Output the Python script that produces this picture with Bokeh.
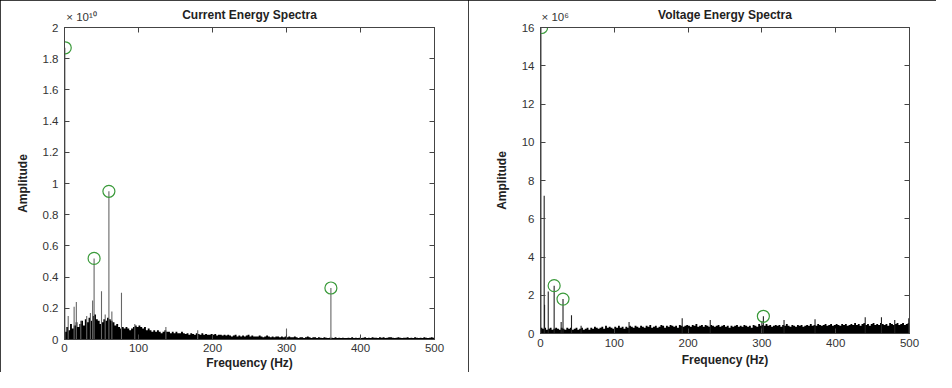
from bokeh.plotting import figure
from bokeh.models import Range1d, LinearAxis, FixedTicker, NumeralTickFormatter, CustomJSTickFormatter
from bokeh.layouts import row
from bokeh.embed import file_html
from bokeh.resources import INLINE

# ---------------- data ----------------
BIN_HZ = 2.5          # width of one noise-floor bin (Hz)
freq_ticks = [0, 100, 200, 300, 400, 500]

# Current spectrum (values in units of 1e10)
cur_floor = [
    0.05, 0.08, 0.06, 0.10, 0.07, 0.09, 0.11, 0.08,
    0.10, 0.12, 0.09, 0.13, 0.11, 0.14, 0.12, 0.15,
    0.16, 0.13, 0.12, 0.10, 0.11, 0.13, 0.12, 0.14,
    0.13, 0.12, 0.11, 0.09, 0.10, 0.08, 0.07, 0.08,
    0.07, 0.08, 0.07, 0.06, 0.07, 0.08, 0.09, 0.08,
    0.09, 0.08, 0.07, 0.08, 0.06, 0.07, 0.06, 0.05,
    0.06, 0.05, 0.06, 0.05, 0.04, 0.05, 0.06, 0.05,
    0.05, 0.04, 0.05, 0.04, 0.05, 0.04, 0.04, 0.05,
    0.04, 0.035, 0.04, 0.03, 0.04, 0.035, 0.03, 0.04,
    0.035, 0.03, 0.04, 0.03, 0.035, 0.03, 0.03, 0.035,
    0.03, 0.035, 0.025, 0.03, 0.03, 0.025, 0.03, 0.025,
    0.03, 0.025, 0.02, 0.025, 0.03, 0.02, 0.025, 0.02,
    0.025, 0.02, 0.025, 0.03, 0.02, 0.025, 0.02, 0.02,
    0.02, 0.025, 0.02, 0.015, 0.02, 0.025, 0.02, 0.015,
    0.02, 0.015, 0.02, 0.02, 0.015, 0.02, 0.015, 0.02,
    0.015, 0.02, 0.015, 0.015, 0.02, 0.015, 0.01, 0.015,
    0.015, 0.01, 0.015, 0.02, 0.015, 0.01, 0.015, 0.015,
    0.01, 0.015, 0.012, 0.01, 0.015, 0.012, 0.01, 0.012,
    0.012, 0.01, 0.015, 0.01, 0.012, 0.01, 0.012, 0.01,
    0.01, 0.012, 0.01, 0.015, 0.01, 0.012, 0.01, 0.012,
    0.01, 0.012, 0.015, 0.01, 0.012, 0.01, 0.015, 0.012,
    0.012, 0.01, 0.015, 0.012, 0.015, 0.01, 0.012, 0.015,
    0.015, 0.012, 0.01, 0.012, 0.015, 0.012, 0.01, 0.012,
    0.012, 0.015, 0.01, 0.012, 0.01, 0.015, 0.012, 0.01,
    0.012, 0.01, 0.015, 0.012, 0.01, 0.012, 0.015, 0.012,
]
cur_spike_hz = [0.5, 5, 13, 16, 22, 30, 35, 38, 40, 50, 55, 60, 64, 77, 95, 137, 180, 300, 360]
cur_spike_amp = [1.87, 0.15, 0.21, 0.24, 0.12, 0.15, 0.17, 0.25, 0.52, 0.31, 0.16, 0.95, 0.18, 0.30, 0.10, 0.08, 0.06, 0.07, 0.33]
cur_peak_hz = [1, 40, 60, 360]
cur_peak_amp = [1.87, 0.52, 0.95, 0.33]
cur_yticks = [0, 0.2, 0.4, 0.6, 0.8, 1, 1.2, 1.4, 1.6, 1.8, 2]
cur_title = "Current Energy Spectra"
cur_exponent = "\u00d7 10\u00b9\u2070"

# Voltage spectrum (values in units of 1e6)
volt_floor = [
    0.3, 0.25, 0.3, 0.2, 0.25, 0.3, 0.2, 0.25,
    0.3, 0.25, 0.2, 0.3, 0.25, 0.2, 0.3, 0.25,
    0.3, 0.2, 0.25, 0.3, 0.2, 0.25, 0.3, 0.2,
    0.25, 0.3, 0.2, 0.3, 0.25, 0.35, 0.3, 0.25,
    0.3, 0.35, 0.25, 0.4, 0.3, 0.35, 0.3, 0.25,
    0.35, 0.3, 0.4, 0.3, 0.35, 0.25, 0.35, 0.3,
    0.4, 0.35, 0.3, 0.4, 0.35, 0.3, 0.4, 0.35,
    0.3, 0.4, 0.35, 0.45, 0.3, 0.35, 0.4, 0.3,
    0.35, 0.45, 0.4, 0.3, 0.4, 0.35, 0.45, 0.4,
    0.35, 0.4, 0.3, 0.45, 0.4, 0.35, 0.4, 0.45,
    0.4, 0.35, 0.45, 0.4, 0.5, 0.35, 0.4, 0.45,
    0.35, 0.45, 0.4, 0.35, 0.45, 0.4, 0.35, 0.4,
    0.45, 0.35, 0.4, 0.45, 0.35, 0.4, 0.3, 0.4,
    0.35, 0.4, 0.45, 0.35, 0.4, 0.35, 0.45, 0.4,
    0.35, 0.4, 0.3, 0.45, 0.4, 0.35, 0.5, 0.4,
    0.45, 0.4, 0.5, 0.4, 0.45, 0.35, 0.4, 0.45,
    0.4, 0.45, 0.35, 0.45, 0.4, 0.5, 0.4, 0.35,
    0.45, 0.4, 0.35, 0.45, 0.4, 0.45, 0.35, 0.4,
    0.45, 0.4, 0.5, 0.4, 0.45, 0.4, 0.5, 0.45,
    0.4, 0.45, 0.5, 0.4, 0.45, 0.5, 0.4, 0.45,
    0.5, 0.45, 0.4, 0.5, 0.45, 0.5, 0.4, 0.45,
    0.5, 0.45, 0.55, 0.45, 0.5, 0.4, 0.5, 0.55,
    0.45, 0.5, 0.4, 0.5, 0.55, 0.45, 0.5, 0.45,
    0.55, 0.5, 0.45, 0.5, 0.4, 0.55, 0.5, 0.45,
    0.5, 0.55, 0.45, 0.5, 0.55, 0.45, 0.5, 0.55,
]
volt_spike_hz = [0.5, 5, 5.5, 10.5, 18.5, 28, 30.5, 42, 55, 120, 192, 230, 300, 302, 330, 372, 440, 462, 480, 499]
volt_spike_amp = [16.0, 7.2, 1.5, 2.2, 2.5, 0.6, 1.8, 0.95, 0.4, 0.6, 0.8, 0.7, 0.65, 0.9, 0.7, 0.75, 0.85, 0.85, 0.7, 0.8]
volt_peak_hz = [1.5, 18.5, 30.5, 302]
volt_peak_amp = [16.0, 2.5, 1.8, 0.9]
volt_yticks = [0, 2, 4, 6, 8, 10, 12, 14, 16]
volt_title = "Voltage Energy Spectra"
volt_exponent = "\u00d7 10\u2076"

FONT = "Liberation Sans"
TXT = "#333333"
AX = "#444444"


def make_panel(title, floor, s_hz, s_amp, p_hz, p_amp, yticks, exp_text, exp_pos,
               spike_color, borders, xstand):
    ymax = yticks[-1]
    p = figure(width=468, height=372, output_backend="svg", toolbar_location=None,
               x_range=Range1d(0, 500), y_range=Range1d(0, ymax),
               min_border_left=borders[0], min_border_right=borders[1],
               min_border_top=borders[2], min_border_bottom=borders[3],
               background_fill_color="white", border_fill_color="white",
               frame_align=False)
    p.grid.visible = False
    p.outline_line_color = AX
    p.title.visible = False

    # noise floor as a filled step silhouette
    xs, ys = [], []
    for i, v in enumerate(floor):
        xs += [i * BIN_HZ, (i + 1) * BIN_HZ]
        ys += [v, v]
    p.varea(x=xs, y1=[0] * len(xs), y2=ys, fill_color="black")

    # individual spectral lines
    p.segment(x0=s_hz, y0=[0] * len(s_hz), x1=s_hz, y1=s_amp,
              line_color=spike_color, line_width=1.1)

    # detected peaks
    p.scatter(x=p_hz, y=p_amp, marker="circle", size=12, fill_color=None,
              line_color="#3a9a3a", line_width=1.2)

    # axes styling
    for ax in (p.xaxis[0], p.yaxis[0]):
        ax.axis_line_color = AX
        ax.major_tick_line_color = AX
        ax.major_tick_in = 5
        ax.major_tick_out = 0
        ax.minor_tick_line_color = None
        ax.major_label_text_font = FONT
        ax.major_label_text_font_size = "11.5px"
        ax.major_label_text_color = TXT
        ax.axis_label_text_font = FONT
        ax.axis_label_text_font_size = "12px"
        ax.axis_label_text_font_style = "bold"
        ax.axis_label_text_color = "#222222"
    p.xaxis.ticker = FixedTicker(ticks=freq_ticks)
    p.yaxis.ticker = FixedTicker(ticks=yticks)
    p.yaxis.formatter = NumeralTickFormatter(format="0.[0]")
    p.xaxis.axis_label = "Frequency (Hz)"
    p.yaxis.axis_label = "Amplitude"
    p.xaxis.major_label_standoff = xstand[0]
    p.xaxis.axis_label_standoff = xstand[1]
    p.yaxis.major_label_standoff = 6
    p.yaxis.axis_label_standoff = 10

    # top axis: inward tick marks (as minor ticks), exponent as its only label,
    # and the panel title as its axis label on the same line
    top = LinearAxis(ticker=FixedTicker(ticks=[exp_pos], minor_ticks=freq_ticks),
                     formatter=CustomJSTickFormatter(code="return %r;" % exp_text),
                     major_tick_line_color=None, major_tick_in=0, major_tick_out=0,
                     minor_tick_line_color=AX, minor_tick_in=5, minor_tick_out=0,
                     axis_line_color=AX, major_label_standoff=5,
                     major_label_text_font=FONT, major_label_text_font_size="11.5px",
                     major_label_text_color=TXT,
                     axis_label=title, axis_label_standoff=-14,
                     axis_label_text_font=FONT, axis_label_text_font_size="12px",
                     axis_label_text_font_style="bold", axis_label_text_color="#222222")
    p.add_layout(top, "above")

    # right axis: inward tick marks only
    right = LinearAxis(ticker=FixedTicker(ticks=[], minor_ticks=yticks),
                       major_tick_line_color=None, major_tick_out=0, major_tick_in=0,
                       minor_tick_line_color=AX, minor_tick_in=5, minor_tick_out=0,
                       axis_line_color=AX, major_label_standoff=0)
    p.add_layout(right, "right")

    p.styles = {"outline": "1px solid black", "outline-offset": "-1px"}
    return p


p1 = make_panel(cur_title, cur_floor, cur_spike_hz, cur_spike_amp,
                cur_peak_hz, cur_peak_amp, cur_yticks, cur_exponent, 23, "#666666",
                (64, 34, 27, 33), (4, 1))
p2 = make_panel(volt_title, volt_floor, volt_spike_hz, volt_spike_amp,
                volt_peak_hz, volt_peak_amp, volt_yticks, volt_exponent, 20, "#222222",
                (72, 27, 27, 39), (5, 3))

layout = row(p1, p2)
layout.styles = {"outline": "2px solid black", "outline-offset": "-2px"}

open("out.html", "w").write(file_html(layout, INLINE))
